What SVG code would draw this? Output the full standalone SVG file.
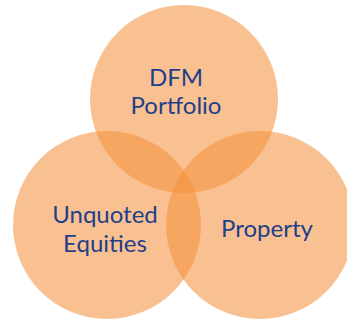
<svg xmlns="http://www.w3.org/2000/svg" width="347" height="320" viewBox="0 0 347 320">
<style>
.c{fill:#F4913A;fill-opacity:0.56}
.t{font-family:Lato,"Open Sans",sans-serif;font-size:24px;fill:#1F3F8A;text-anchor:middle}
</style>
<rect width="347" height="320" fill="#fff"/>
<g id="dfm"><circle class="c" cx="184" cy="99" r="94"/><text class="t" x="176" y="86">DFM</text><text class="t" x="176" y="114">Portfolio</text></g>
<g id="unquoted"><circle class="c" cx="107" cy="225" r="94"/><text class="t" x="105" y="223">Unquoted</text><text class="t" x="105" y="252">Equities</text></g>
<g id="property"><circle class="c" cx="260" cy="225" r="94"/><text class="t" x="267" y="237">Property</text></g>
<g id="connectors"/>
</svg>
